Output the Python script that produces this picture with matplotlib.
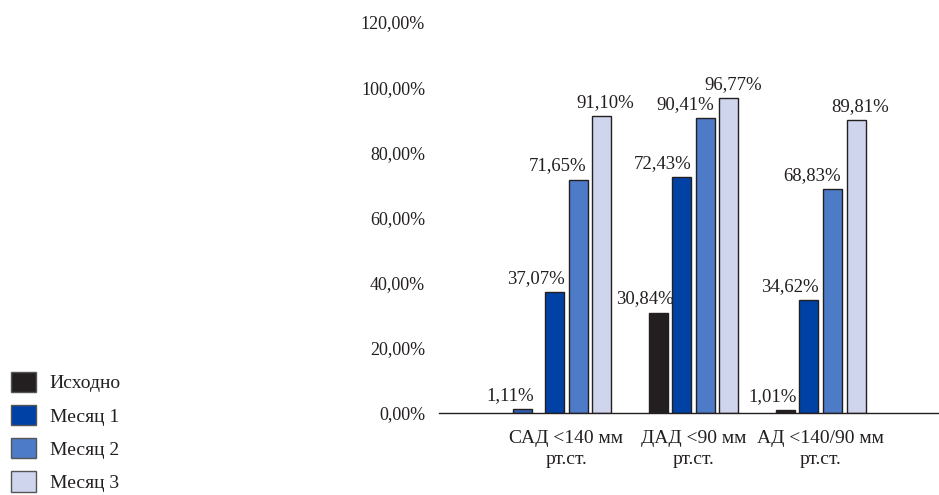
import numpy as np
import matplotlib.pyplot as plt
from matplotlib.patches import Patch

plt.rcParams['font.family'] = ['Liberation Serif', 'DejaVu Serif']

# Share of patients reaching target blood pressure, %
categories = ['САД <140 мм\nрт.ст.', 'ДАД <90 мм\nрт.ст.', 'АД <140/90 мм\nрт.ст.']
series_names = ['Исходно', 'Месяц 1', 'Месяц 2', 'Месяц 3']
baseline = [1.11, 30.84, 1.01]
month1 = [37.07, 72.43, 34.62]
month2 = [71.65, 90.41, 68.83]
month3 = [91.10, 96.77, 89.81]
y_ticks = [0, 20, 40, 60, 80, 100, 120]

values = [baseline, month1, month2, month3]
colors = ['#231f20', '#0041a6', '#4e7bc7', '#d0d5ee']
ink = '#231f20'

fig = plt.figure(figsize=(9.39, 4.95), dpi=100)
ax = fig.add_axes([439 / 939, 1 - 413 / 495, 509 / 939, 391 / 495])

x = np.arange(len(categories))
step = 23.5 / 127
width = 19 / 127
# horizontal nudge of the value labels, in points
label_dx = [-9.5, -13.5, -14.5, 3]

for i, (name, vals) in enumerate(zip(series_names, values)):
    pos = x + (i - 1.5) * step
    bar_colors = [colors[i]] * len(vals)
    if i == 0:
        # first small bar in the first group is drawn in blue and slightly left
        bar_colors[0] = '#2f5fae'
        pos = pos.copy()
        pos[0] -= 8 / 127
    ax.bar(pos, vals, width, color=bar_colors, edgecolor=ink, linewidth=1.0,
           label=name, zorder=3)
    for px, v in zip(pos, vals):
        ax.annotate(f'{v:.2f}%'.replace('.', ','), (px, v),
                    xytext=(label_dx[i], 6.5), textcoords='offset points',
                    ha='center', va='baseline', fontsize=13.5, color=ink)

ax.set_xlim(-1.0, 3.0)
ax.set_ylim(0, 120)
ax.set_yticks(y_ticks)
ax.set_yticklabels([f'{t},00%' for t in y_ticks])
ax.set_xticks(x)
ax.set_xticklabels(categories, linespacing=1.3)
ax.tick_params(axis='y', length=0, pad=10, labelsize=13, labelcolor=ink)
ax.tick_params(axis='x', length=0, pad=12, labelsize=14, labelcolor=ink)
for side in ['top', 'right', 'left']:
    ax.spines[side].set_visible(False)
ax.spines['bottom'].set_color(ink)
ax.spines['bottom'].set_linewidth(1.0)
ax.spines['bottom'].set_zorder(4)

handles = [Patch(facecolor=c, edgecolor='#555555', linewidth=1.0) for c in colors]
fig.legend(handles, series_names, loc='upper left',
           bbox_to_anchor=(-3 / 939, 1 - 358 / 495), frameon=False,
           fontsize=14, handlelength=1.3, handleheight=1.22,
           labelspacing=0.65, handletextpad=0.72, borderpad=0.2,
           labelcolor=ink)

fig.savefig('out.png', dpi=100)
